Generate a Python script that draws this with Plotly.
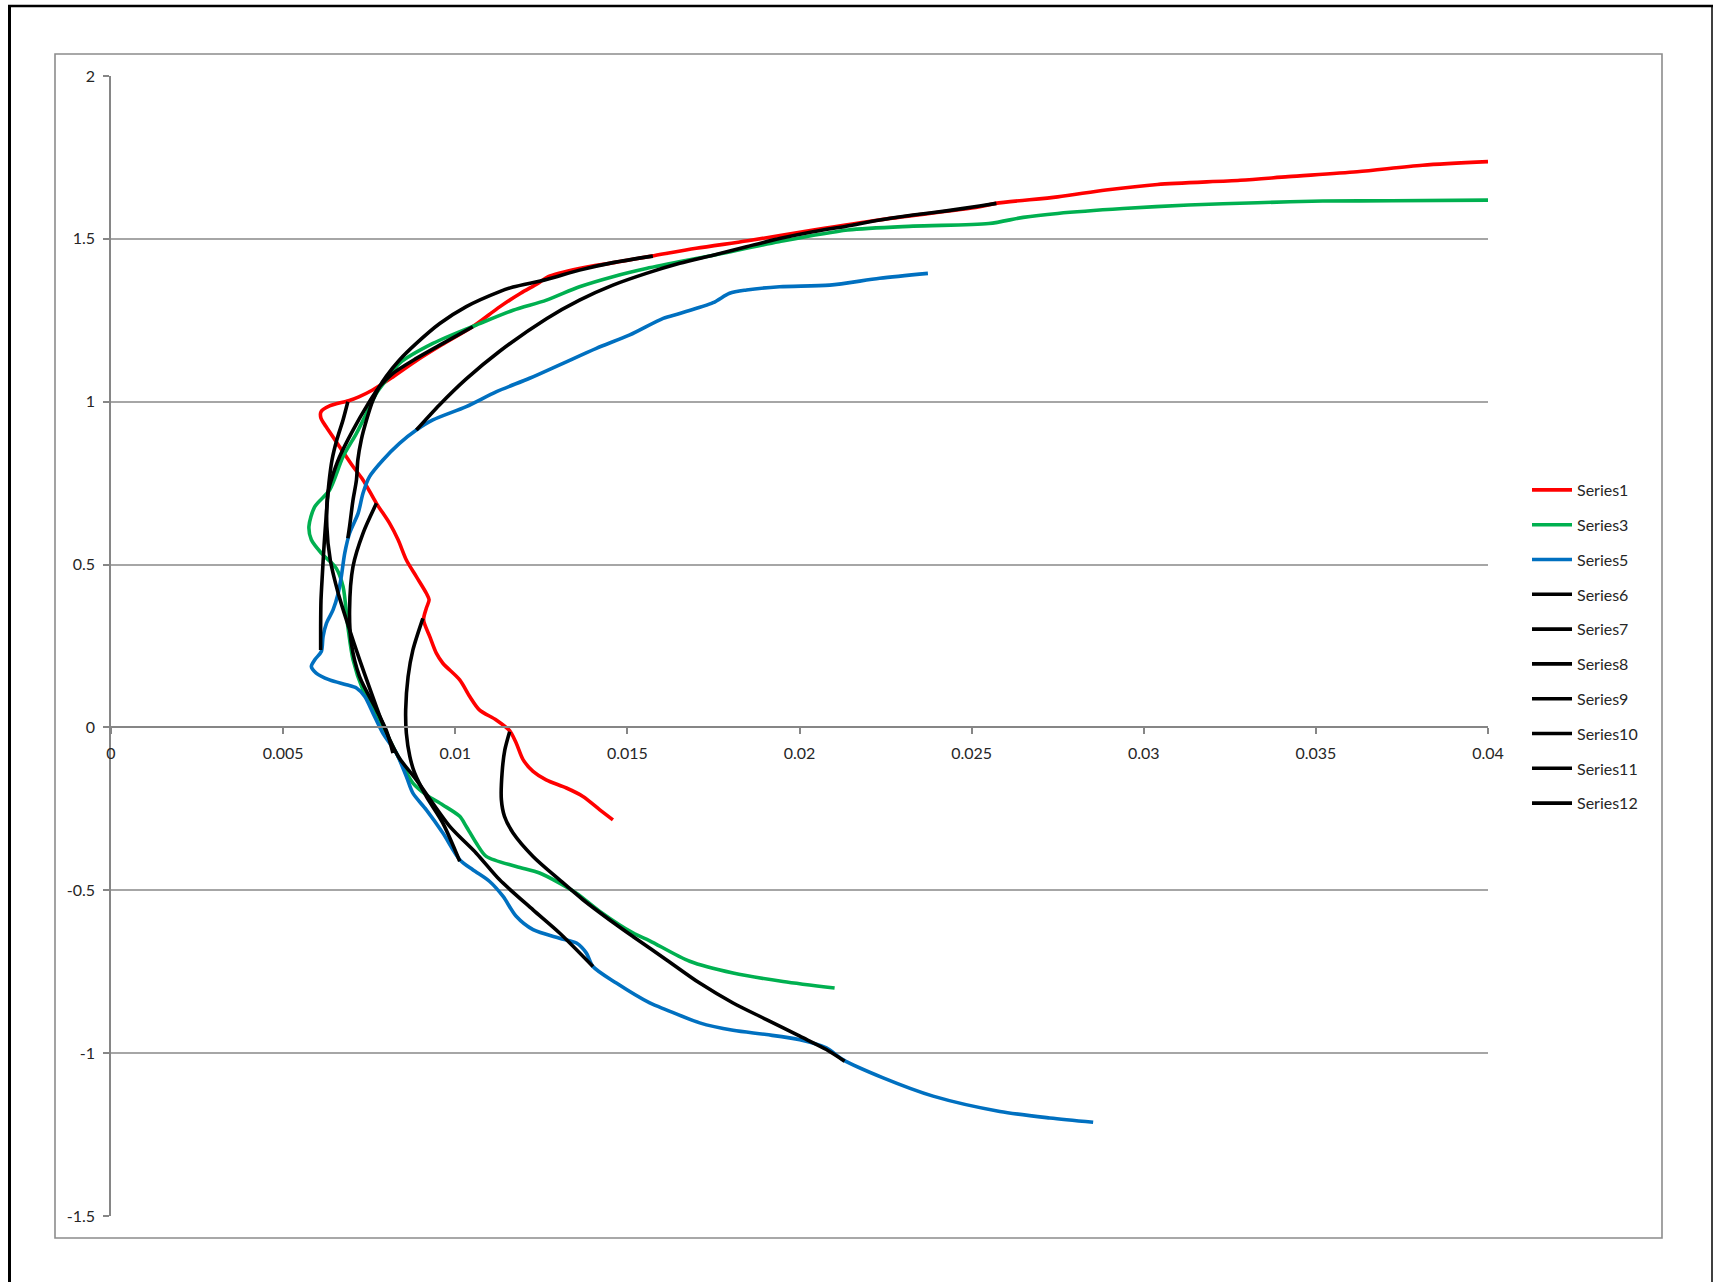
import plotly.graph_objects as go

# ---------------- data ----------------
x_tick_vals = [0, 0.005, 0.01, 0.015, 0.02, 0.025, 0.03, 0.035, 0.04]
x_tick_labels = ["0", "0.005", "0.01", "0.015", "0.02", "0.025", "0.03", "0.035", "0.04"]
y_tick_vals = [-1.5, -1, -0.5, 0, 0.5, 1, 1.5, 2]
y_tick_labels = ["-1.5", "-1", "-0.5", "0", "0.5", "1", "1.5", "2"]

series1_x = [0.0400, 0.0381, 0.0362, 0.0342, 0.0328, 0.0304, 0.0289, 0.0275, 0.0257, 0.0252, 0.0223,
             0.0204, 0.0185, 0.0170, 0.0157, 0.0146, 0.0136, 0.0127, 0.0124, 0.0119, 0.0113, 0.0105,
             0.0096, 0.0089, 0.0082, 0.0076, 0.0072, 0.0069, 0.00635, 0.0061, 0.0061, 0.00625, 0.00664,
             0.00703, 0.00732, 0.00771, 0.00809, 0.00834, 0.00858, 0.00887, 0.00916, 0.00924, 0.00916,
             0.00908, 0.00926, 0.00945, 0.00964, 0.01013, 0.01042, 0.0107, 0.01119, 0.01158, 0.01177,
             0.01197, 0.01226, 0.01264, 0.01323, 0.01371, 0.0142, 0.01458]
series1_y = [1.737, 1.726, 1.706, 1.691, 1.680, 1.667, 1.650, 1.629, 1.609, 1.598, 1.558,
             1.527, 1.494, 1.471, 1.447, 1.427, 1.409, 1.384, 1.363, 1.333, 1.292, 1.230,
             1.174, 1.128, 1.077, 1.036, 1.015, 1.003, 0.987, 0.969, 0.949, 0.923, 0.862,
             0.801, 0.760, 0.688, 0.627, 0.576, 0.514, 0.463, 0.412, 0.392, 0.366,
             0.330, 0.279, 0.228, 0.197, 0.146, 0.095, 0.054, 0.023, -0.010, -0.048,
             -0.099, -0.135, -0.161, -0.186, -0.212, -0.253, -0.284]

series3_x = [0.0400, 0.0372, 0.0352, 0.0333, 0.0313, 0.0294, 0.0275, 0.0265, 0.0255, 0.0233, 0.0214,
             0.0194, 0.0175, 0.01555, 0.01458, 0.01361, 0.01265, 0.01168, 0.01071, 0.00935, 0.00838,
             0.0080, 0.00771, 0.00742, 0.00713, 0.00674, 0.00635, 0.00592, 0.00575, 0.00582, 0.00611,
             0.00654, 0.00674, 0.00688, 0.00703, 0.00732, 0.0078, 0.00829, 0.00877, 0.00916, 0.00964,
             0.01013, 0.01032, 0.01061, 0.0109, 0.01177, 0.01245, 0.01303, 0.01352, 0.0142, 0.01516,
             0.01565, 0.01681, 0.01807, 0.01952, 0.02102]
series3_y = [1.619, 1.617, 1.616, 1.611, 1.604, 1.593, 1.578, 1.566, 1.547, 1.539, 1.527,
             1.491, 1.450, 1.409, 1.384, 1.353, 1.312, 1.281, 1.240, 1.179, 1.118,
             1.067, 1.026, 0.964, 0.903, 0.831, 0.729, 0.678, 0.617, 0.576, 0.535,
             0.489, 0.433, 0.310, 0.208, 0.115, 0.023, -0.079, -0.171, -0.207, -0.238,
             -0.273, -0.304, -0.355, -0.396, -0.427, -0.447, -0.478, -0.509, -0.565, -0.631,
             -0.655, -0.718, -0.754, -0.780, -0.800]

series5_x = [0.02373, 0.02233, 0.02088, 0.01942, 0.01846, 0.01797, 0.01749, 0.01652, 0.01604, 0.01507,
             0.0141, 0.01313, 0.01216, 0.0112, 0.01032, 0.00935, 0.00887, 0.00838, 0.0079, 0.00751,
             0.00732, 0.00718, 0.00693, 0.00679, 0.00669, 0.0066, 0.00645, 0.00626, 0.00616, 0.00611,
             0.00592, 0.00582, 0.00596, 0.00635, 0.00684, 0.00713, 0.00737, 0.00761, 0.0079, 0.00829,
             0.00858, 0.00877, 0.00916, 0.00964, 0.01013, 0.01051, 0.011, 0.01139, 0.01177, 0.01226,
             0.01303, 0.01352, 0.01381, 0.0140, 0.01468, 0.01565, 0.01613, 0.0171, 0.01807, 0.01904,
             0.02001, 0.02078, 0.02126, 0.02243, 0.02388, 0.02582, 0.02727, 0.02853]
series5_y = [1.394, 1.379, 1.358, 1.353, 1.343, 1.333, 1.304, 1.271, 1.256, 1.205,
             1.164, 1.118, 1.072, 1.031, 0.985, 0.944, 0.913, 0.872, 0.821, 0.770,
             0.719, 0.658, 0.596, 0.535, 0.463, 0.412, 0.361, 0.320, 0.279, 0.233,
             0.208, 0.187, 0.167, 0.146, 0.131, 0.121, 0.095, 0.044, -0.018, -0.079,
             -0.151, -0.202, -0.253, -0.324, -0.406, -0.437, -0.473, -0.519, -0.580, -0.621,
             -0.647, -0.662, -0.693, -0.734, -0.785, -0.846, -0.867, -0.907, -0.930, -0.943,
             -0.959, -0.984, -1.020, -1.076, -1.132, -1.179, -1.199, -1.212]

series6_x = [0.00887, 0.00954, 0.01032, 0.01129, 0.01265, 0.01361, 0.01458, 0.01555, 0.01652, 0.01749,
             0.01846, 0.01942, 0.02039, 0.02136, 0.02233, 0.0233, 0.02427, 0.02523, 0.02572]
series6_y = [0.913, 0.990, 1.070, 1.155, 1.255, 1.312, 1.358, 1.394, 1.425, 1.450,
             1.476, 1.501, 1.522, 1.539, 1.558, 1.573, 1.586, 1.601, 1.609]

series7_x = [0.01574, 0.01458, 0.01361, 0.01265, 0.01168, 0.01129, 0.01032, 0.00955, 0.00887, 0.00838,
             0.00799, 0.0078, 0.00761, 0.00742, 0.00727, 0.00717, 0.00713, 0.00703, 0.00693, 0.00688]
series7_y = [1.447, 1.427, 1.404, 1.375, 1.352, 1.338, 1.292, 1.240, 1.179, 1.128,
             1.077, 1.046, 1.005, 0.943, 0.883, 0.821, 0.760, 0.698, 0.617, 0.581]

series8_x = [0.00688, 0.00674, 0.00656, 0.00642, 0.00633, 0.00626, 0.00619, 0.00614, 0.0061, 0.00609, 0.00609]
series8_y = [1.000, 0.944, 0.883, 0.821, 0.750, 0.660, 0.560, 0.470, 0.390, 0.310, 0.238]

series9_x = [0.01051, 0.00964, 0.00887, 0.00819, 0.0078, 0.00742, 0.00703, 0.00664, 0.0064, 0.0063,
             0.00627, 0.00637, 0.0066, 0.0069, 0.00722, 0.00755, 0.0079, 0.00835, 0.00887, 0.00984,
             0.01061, 0.01129, 0.01226, 0.01303, 0.0140]
series9_y = [1.230, 1.179, 1.133, 1.087, 1.046, 0.985, 0.913, 0.831, 0.760, 0.719,
             0.617, 0.514, 0.412, 0.310, 0.208, 0.110, 0.010, -0.090, -0.161, -0.304,
             -0.386, -0.468, -0.560, -0.631, -0.734]

series10_x = [0.00771, 0.00732, 0.00703, 0.00693, 0.00698, 0.00722, 0.00771, 0.00800, 0.00819]
series10_y = [0.688, 0.596, 0.494, 0.361, 0.259, 0.156, 0.054, -0.010, -0.079]

series11_x = [0.00906, 0.00877, 0.00863, 0.00856, 0.00858, 0.00868, 0.00882, 0.00916, 0.00964, 0.01013]
series11_y = [0.335, 0.238, 0.156, 0.054, -0.018, -0.089, -0.140, -0.212, -0.294, -0.411]

series12_x = [0.01158, 0.01144, 0.01136, 0.01134, 0.01143, 0.01168, 0.01226, 0.01303, 0.01371, 0.01468,
              0.01516, 0.01613, 0.0171, 0.01807, 0.01904, 0.02001, 0.02078, 0.02131]
series12_y = [-0.013, -0.069, -0.140, -0.222, -0.273, -0.324, -0.396, -0.468, -0.529, -0.606,
              -0.642, -0.713, -0.785, -0.846, -0.897, -0.948, -0.989, -1.025]

series_names = ["Series1", "Series3", "Series5", "Series6", "Series7", "Series8",
                "Series9", "Series10", "Series11", "Series12"]
series_colors = ["#FF0000", "#00B050", "#0070C0", "#000000", "#000000", "#000000",
                 "#000000", "#000000", "#000000", "#000000"]
series_data = [(series1_x, series1_y), (series3_x, series3_y), (series5_x, series5_y),
               (series6_x, series6_y), (series7_x, series7_y), (series8_x, series8_y),
               (series9_x, series9_y), (series10_x, series10_y), (series11_x, series11_y),
               (series12_x, series12_y)]

# ---------------- figure ----------------
W, H = 1713, 1282
ML, MR, MT, MB = 111, 225, 76, 66
PW, PH = W - ML - MR, H - MT - MB


def px(xp):
    return (xp - ML) / PW


def py(yp):
    return (H - MB - yp) / PH


fig = go.Figure()
for i, (name, color, (xs, ys)) in enumerate(zip(series_names, series_colors, series_data)):
    fig.add_trace(go.Scatter(
        x=xs, y=ys, mode="lines", name=name, legendgroup=name,
        line=dict(color=color, width=3.6, shape="spline", smoothing=0.8),
        hoverinfo="x+y+name",
    ))

axis_gray = "#868686"
fig.update_layout(
    width=W, height=H,
    margin=dict(l=ML, r=MR, t=MT, b=MB, autoexpand=False),
    paper_bgcolor="white", plot_bgcolor="white",
    font=dict(family="Lato, 'Open Sans', sans-serif", size=16, color="#262626"),
    showlegend=True,
    legend=dict(
        x=px(1527), y=py(473), xanchor="left", yanchor="top",
        bgcolor="rgba(0,0,0,0)", borderwidth=0,
        traceorder="grouped", tracegroupgap=11,
        itemwidth=40,
        font=dict(family="Lato, 'Open Sans', sans-serif", size=16, color="#262626"),
    ),
    xaxis=dict(
        range=[0, 0.04], tickvals=x_tick_vals, ticktext=x_tick_labels,
        showgrid=False, zeroline=False,
        showline=True, linecolor=axis_gray, linewidth=1.5,
        ticks="outside", ticklen=6, tickcolor=axis_gray, tickwidth=1.5,
        anchor="free", position=1.5 / 3.5,
        ticklabelstandoff=6,
    ),
    yaxis=dict(
        range=[-1.5, 2], tickvals=y_tick_vals, ticktext=y_tick_labels,
        showgrid=True, gridcolor="#A6A6A6", gridwidth=1.5,
        zeroline=False,
        showline=True, linecolor=axis_gray, linewidth=1.5,
        ticks="outside", ticklen=6, tickcolor=axis_gray, tickwidth=1.5,
        ticklabelstandoff=5,
    ),
    shapes=[
        dict(type="rect", xref="paper", yref="paper",
             x0=px(55), x1=px(1662), y0=py(1238), y1=py(54),
             line=dict(color="#8C8C8C", width=1.6), fillcolor="rgba(0,0,0,0)", layer="below"),
        dict(type="line", xref="paper", yref="paper",
             x0=px(9.5), x1=px(9.5), y0=py(5), y1=py(1285),
             line=dict(color="black", width=3)),
        dict(type="line", xref="paper", yref="paper",
             x0=px(8), x1=px(1716), y0=py(6), y1=py(6),
             line=dict(color="black", width=2.5)),
        dict(type="line", xref="paper", yref="paper",
             x0=px(1712), x1=px(1712), y0=py(5), y1=py(1285),
             line=dict(color="black", width=1.5)),
    ],
)

fig.write_html(
    "out.html",
    config={"displayModeBar": False},
    post_script="document.body.style.margin='0';document.body.style.overflow='hidden';",
)
